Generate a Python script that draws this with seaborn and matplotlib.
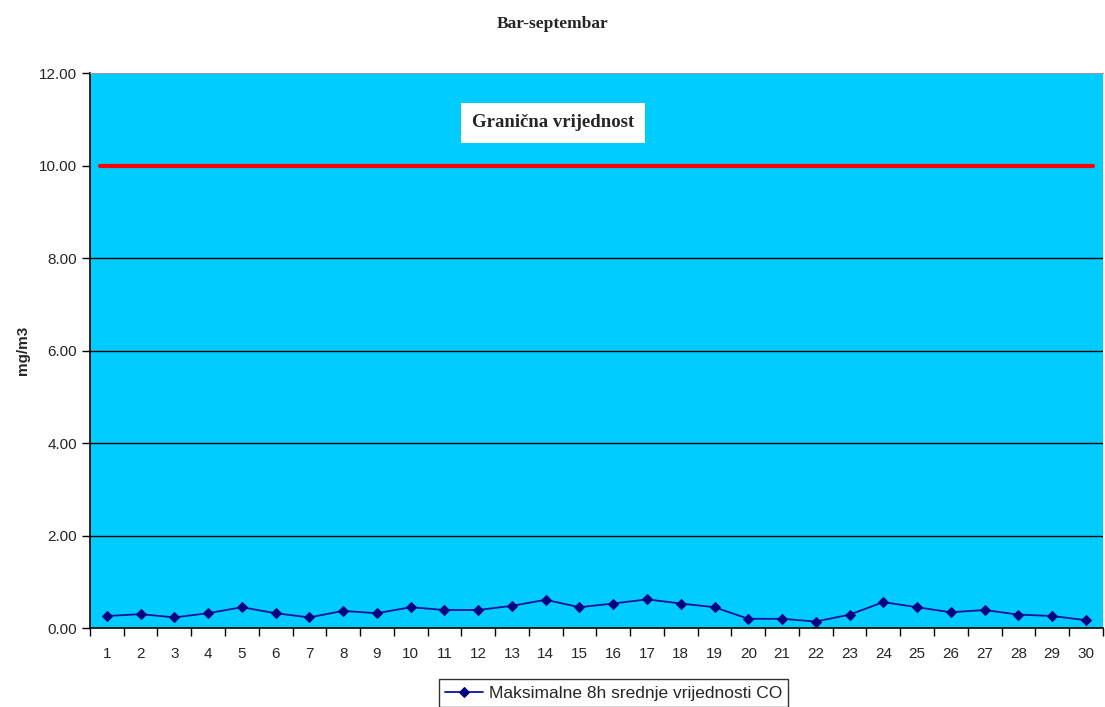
import matplotlib
matplotlib.use("Agg")
import matplotlib.pyplot as plt
import seaborn as sns
import pandas as pd
from matplotlib.ticker import FixedLocator, FormatStrFormatter

days = list(range(1, 31))
co_max8h = [0.26, 0.30, 0.23, 0.32, 0.45, 0.32, 0.23, 0.37, 0.32, 0.45,
            0.39, 0.39, 0.48, 0.61, 0.45, 0.53, 0.62, 0.53, 0.45, 0.20,
            0.20, 0.14, 0.29, 0.56, 0.45, 0.34, 0.39, 0.29, 0.26, 0.17]
limit_value = 10.0
series_name = "Maksimalne 8h srednje vrijednosti CO"

df = pd.DataFrame({"Dan": days, "CO": co_max8h})

sns.set_style("white")
plt.rcParams["font.family"] = ["Liberation Sans", "DejaVu Sans"]

fig = plt.figure(figsize=(11.05, 7.07), dpi=100)
ax = fig.add_axes([0.0814, 0.1117, 0.9166, 0.785])
ax.set_facecolor("#00CCFF")

for y in [2, 4, 6, 8]:
    ax.axhline(y, color="black", lw=1, zorder=1)
ax.axhline(limit_value, xmin=0.01, xmax=0.99, color="red", lw=3, zorder=2)

sns.lineplot(data=df, x="Dan", y="CO", ax=ax, color="#1010A0", lw=1.3,
             marker="D", markersize=5, markerfacecolor="#000080",
             markeredgecolor="#000080", label=series_name, zorder=3)

ax.set_xlim(0.5, 30.5)
ax.set_ylim(0, 12)
ax.set_xticks(days)
ax.xaxis.set_minor_locator(FixedLocator([d + 0.5 for d in range(0, 31)]))
ax.tick_params(axis="x", which="major", length=0, labelsize=11, pad=14)
ax.tick_params(axis="x", which="minor", length=6, width=1, color="black", direction="out", bottom=True)
ax.set_yticks([0, 2, 4, 6, 8, 10, 12])
ax.yaxis.set_major_formatter(FormatStrFormatter("%.2f"))
ax.tick_params(axis="y", length=6, width=1, color="black", direction="out", left=True, labelsize=11)

for side in ["left", "bottom"]:
    ax.spines[side].set_color("black")
    ax.spines[side].set_linewidth(1.2)
ax.spines["top"].set_color("#999999")
ax.spines["right"].set_visible(False)

ax.set_xlabel("")
ax.set_ylabel("mg/m3", fontsize=11, fontweight="bold", labelpad=6)

fig.suptitle("Bar-septembar", x=0.5, y=0.978, fontsize=12.5, fontweight="bold",
             family=["Liberation Serif", "DejaVu Serif"])

ax.text(0.457, 0.91, "Granična vrijednost", transform=ax.transAxes,
        ha="center", va="center", fontsize=13.5, fontweight="bold",
        family=["Liberation Serif", "DejaVu Serif"],
        bbox=dict(facecolor="white", edgecolor="none", pad=8))

leg = ax.legend(loc="upper center", bbox_to_anchor=(0.517, -0.077), frameon=True,
                fontsize=12.5, handlelength=2.2, handletextpad=0.3, borderpad=0.35,
                fancybox=False)
leg.get_frame().set_edgecolor("black")
leg.get_frame().set_linewidth(1)

fig.savefig("out.png", dpi=100)
